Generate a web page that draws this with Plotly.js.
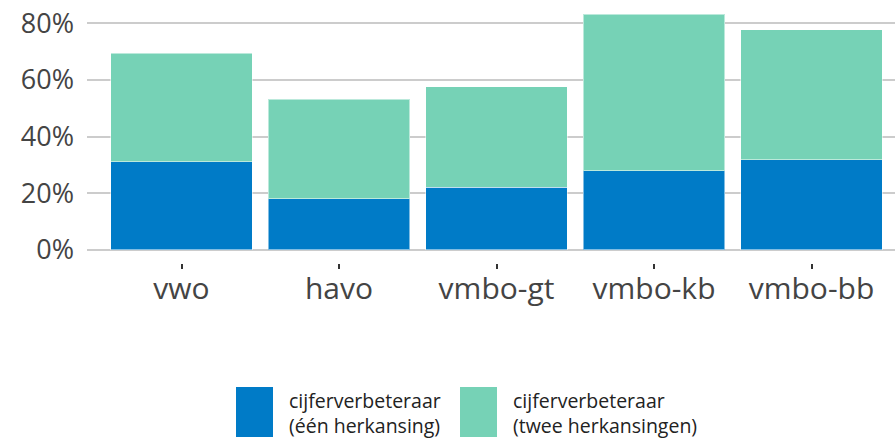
<!DOCTYPE html>
<html><head><meta charset="utf-8">
<script src="https://cdn.plot.ly/plotly-3.0.1.min.js"></script>
<style>html,body{margin:0;padding:0;background:#fff}#chart{width:895px;height:441px}</style>
</head><body><div id="chart"></div>
<script>
const categories = ['vwo','havo','vmbo-gt','vmbo-kb','vmbo-bb'];
const eenHerkansing = [31.2, 18.0, 22.1, 28.0, 31.8];
const tweeHerkansingen = [38.2, 35.3, 35.5, 55.2, 46.0];
const seriesNames = ['cijferverbeteraar<br>(één herkansing)', 'cijferverbeteraar<br>(twee herkansingen)'];
const colors = ['#007BC7', '#76D2B6'];
const yTicks = [0, 20, 40, 60, 80];

const font = 'Open Sans, Lato, sans-serif';
const traces = [eenHerkansing, tweeHerkansingen].map((v, i) => ({
  type: 'bar', x: categories, y: v, name: seriesNames[i],
  marker: {color: colors[i], line: {color: 'rgba(255,255,255,0.5)', width: 1}},
  showlegend: false, hoverinfo: 'skip'
}));

const shapes = [], annotations = [];
const legendX = [236, 460];
const legendTextX = [287, 511];
seriesNames.forEach((n, i) => {
  shapes.push({type: 'rect', xref: 'paper', yref: 'paper',
    x0: (legendX[i] - 87) / 808, x1: (legendX[i] + 37 - 87) / 808,
    y0: (263 - 437) / 262, y1: (263 - 387) / 262,
    fillcolor: colors[i], line: {width: 0}});
  annotations.push({xref: 'paper', yref: 'paper', x: (legendTextX[i] - 87) / 808,
    y: (263 - 413) / 262, xanchor: 'left', yanchor: 'middle', align: 'left',
    text: n, showarrow: false, font: {family: font, size: 19.5, color: '#222'}});
});

Plotly.newPlot('chart', traces, {
  width: 895, height: 441,
  margin: {l: 87, r: 0, t: 1, b: 178},
  barmode: 'stack', bargap: 0.1,
  paper_bgcolor: '#fff', plot_bgcolor: '#fff',
  font: {family: font, color: '#444'},
  xaxis: {type: 'category', range: [-0.6, 4.53], showgrid: false, zeroline: false,
    ticks: 'outside', ticklen: 5, tickwidth: 2, tickcolor: '#333',
    tickfont: {family: font, size: 30, color: '#444'}, ticklabelstandoff: -6, fixedrange: true},
  yaxis: {range: [-4.6, 87.9], tickvals: yTicks, ticktext: yTicks.map(t => t + '%'),
    showgrid: true, gridcolor: '#cccccc', gridwidth: 2, zeroline: false,
    tickfont: {family: font, size: 27, color: '#444'}, ticklabelstandoff: 12, fixedrange: true},
  shapes: shapes, annotations: annotations
}, {displayModeBar: false, staticPlot: true});
</script></body></html>
